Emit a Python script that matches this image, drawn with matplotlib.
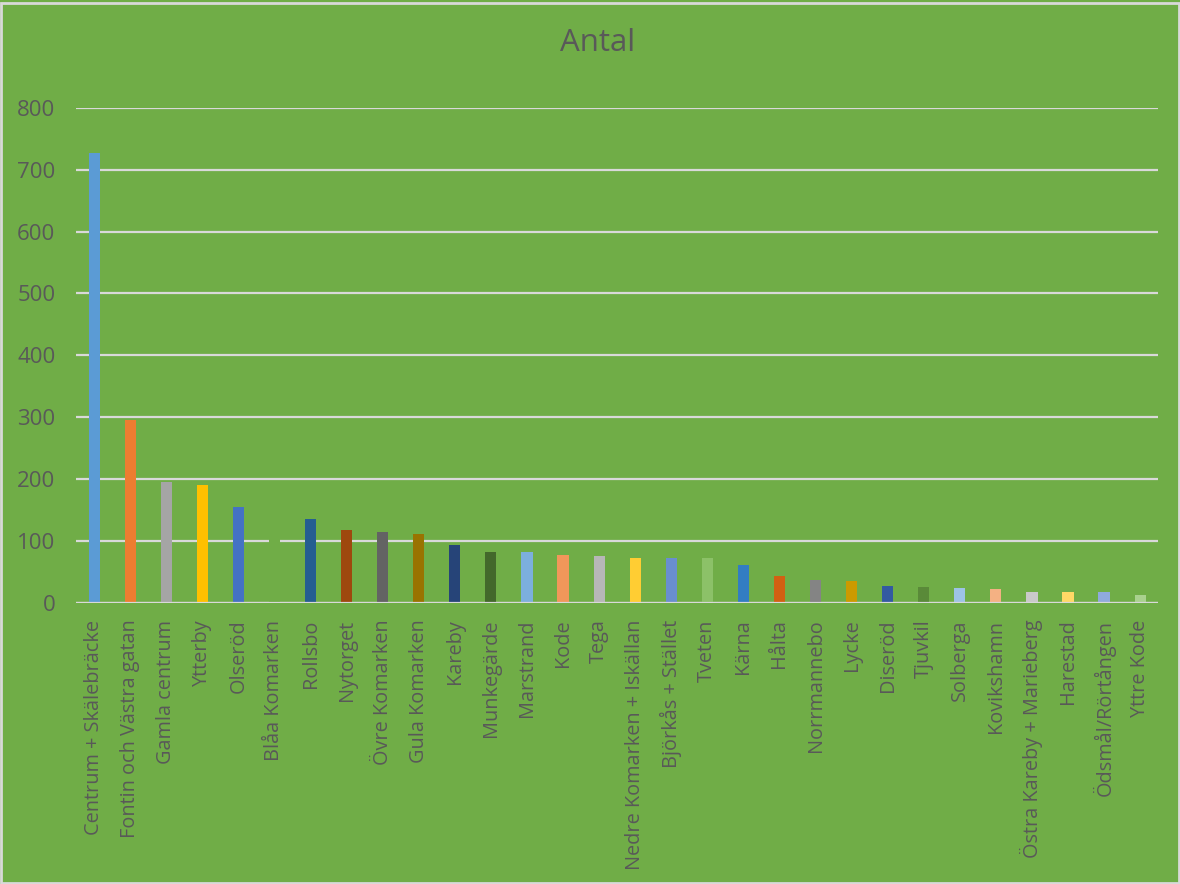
import matplotlib
matplotlib.use("Agg")
import matplotlib.pyplot as plt
from matplotlib.patches import Rectangle

plt.rcParams['font.family'] = ['Open Sans', 'DejaVu Sans']

# data
areas = [
    'Centrum + Skälebräcke', 'Fontin och Västra gatan', 'Gamla centrum', 'Ytterby',
    'Olseröd', 'Blåa Komarken', 'Rollsbo', 'Nytorget', 'Övre Komarken', 'Gula Komarken',
    'Kareby', 'Munkegärde', 'Marstrand', 'Kode', 'Tega', 'Nedre Komarken + Iskällan',
    'Björkås + Stället', 'Tveten', 'Kärna', 'Hålta', 'Norrmannebo', 'Lycke', 'Diseröd',
    'Tjuvkil', 'Solberga', 'Kovikshamn', 'Östra Kareby + Marieberg', 'Harestad',
    'Ödsmål/Rörtången', 'Yttre Kode',
]
antal = [727, 295, 196, 190, 155, 145, 136, 117, 115, 112,
         94, 83, 82, 77, 75, 73, 72, 72, 62, 43,
         37, 35, 28, 26, 24, 22, 18, 18, 17, 13]
bar_colors = [
    '#5B9BD5', '#ED7D31', '#A5A5A5', '#FFC000', '#4472C4', '#70AD47',
    '#255E91', '#9E480E', '#636363', '#997300', '#264478', '#43682B',
    '#7CAFDD', '#F1975A', '#B7B7B7', '#FFCD33', '#698ED0', '#8CC168',
    '#327DC2', '#D26012', '#848484', '#CC9A00', '#335AA1', '#5A8A39',
    '#9DC3E6', '#F4B183', '#C9C9C9', '#FFD966', '#8FAADC', '#A9D18E',
]

bg = '#70AD47'
txt = '#595959'
grid = '#D9D9D9'

fig = plt.figure(figsize=(11.8, 8.84), dpi=100, facecolor=bg)
ax = fig.add_axes([0.0645, 0.318, 0.917, 0.560])
ax.set_facecolor(bg)

x = range(len(areas))
ax.bar(x, antal, width=0.31, color=bar_colors, zorder=3)

ax.set_ylim(0, 800)
ax.set_xlim(-0.5, len(areas) - 0.5)
ax.set_yticks(range(0, 801, 100))
ax.yaxis.grid(True, color=grid, linewidth=1.6, zorder=0)
ax.axhline(0, color=grid, linewidth=1.6, zorder=4)
ax.set_axisbelow(True)
for s in ax.spines.values():
    s.set_visible(False)

ax.set_xticks(list(x))
ax.set_xticklabels(areas, rotation=90, fontsize=14.3, color=txt)
ax.tick_params(axis='x', length=0, pad=12)
ax.tick_params(axis='y', length=0, pad=15, labelsize=16, labelcolor=txt)

fig.suptitle('Antal', x=0.506, y=0.968, fontsize=22.5, color=txt)

# thin light frame around the chart area
fig.patches.append(Rectangle((0.001, 0.001), 0.998, 0.996, transform=fig.transFigure,
                             fill=False, edgecolor='#D9D9D9', linewidth=2))

fig.savefig('out.png', dpi=100, facecolor=bg)
